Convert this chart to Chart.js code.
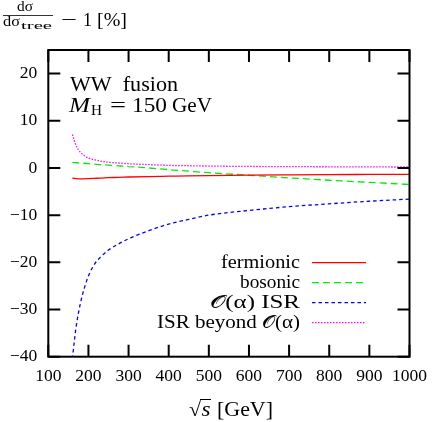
<!DOCTYPE html>
<html lang="en">
<head>
<meta charset="UTF-8">
<title>WW fusion</title>
<script src="https://cdn.jsdelivr.net/npm/chart.js"></script>
<style>
  html, body { margin: 0; padding: 0; background: #fff; }
  #wrap { width: 436px; height: 422px; }
</style>
</head>
<body>
<div id="wrap"><canvas id="c"></canvas></div>
<script>
// sqrt(s) in GeV
const energies = [160, 165, 170, 180, 190, 200, 215, 230, 250, 275, 300, 350, 400, 450, 500, 600, 700, 800, 900, 1000];
// relative corrections in %
const fermionic = [-2.1, -2.2, -2.25, -2.3, -2.3, -2.25, -2.2, -2.15, -2.05, -2.0, -1.92, -1.82, -1.75, -1.68, -1.62, -1.52, -1.46, -1.41, -1.38, -1.35];
const bosonic = [1.2, 1.15, 1.1, 1.05, 1.0, 0.9, 0.8, 0.7, 0.6, 0.45, 0.3, 0.0, -0.35, -0.68, -1.0, -1.55, -2.1, -2.6, -3.05, -3.5];
const isrOa = [-40.5, -36.6, -33.3, -28.7, -25.4, -22.9, -20.4, -18.9, -17.4, -16.1, -15.0, -13.3, -11.9, -10.9, -10.0, -9.0, -8.2, -7.6, -7.05, -6.6];
const isrBeyond = [7.1, 5.7, 4.6, 3.3, 2.6, 2.1, 1.75, 1.45, 1.2, 1.05, 0.9, 0.7, 0.55, 0.47, 0.4, 0.32, 0.28, 0.25, 0.22, 0.2];
const legendLabels = ['fermionic', 'bosonic', '\u{1D4AA}(\u03B1) ISR', 'ISR beyond \u{1D4AA}(\u03B1)'];
const xTicks = [100, 200, 300, 400, 500, 600, 700, 800, 900, 1000];
const yTicks = [-40, -30, -20, -10, 0, 10, 20];

const SERIF = '"Liberation Serif", "DejaVu Serif", serif';

function pts(ys) {
    return energies.map((e, i) => ({ x: e, y: ys[i] }));
}

function ds(label, ys, color, dash) {
    return {
        label: label,
        data: pts(ys),
        borderColor: color,
        borderWidth: 1.3,
        borderDash: dash,
        pointRadius: 0,
        fill: false,
        cubicInterpolationMode: 'monotone'
    };
}

// text stretched to the width it has in the original (TeX fonts are wider)
function fitText(ctx, font, text, x, y, w) {
    ctx.font = font;
    const m = ctx.measureText(text).width;
    ctx.save();
    ctx.translate(x, y);
    ctx.scale(w / m, 1);
    ctx.textAlign = 'left';
    ctx.fillText(text, 0, 0);
    ctx.restore();
}

function minus(v) {
    return v < 0 ? '\u2212' + Math.abs(v) : String(v);
}

// frame, inward ticks on all four sides, texts and legend
const decor = {
    id: 'decor',
    afterDatasetsDraw(chart) {
        const ctx = chart.ctx;
        const a = chart.chartArea;
        const sx = chart.scales.x, sy = chart.scales.y;
        const tl = 12;
        ctx.save();
        ctx.strokeStyle = '#000';
        ctx.lineWidth = 2;
        ctx.beginPath();
        xTicks.forEach(v => {
            const p = sx.getPixelForValue(v);
            ctx.moveTo(p, a.bottom); ctx.lineTo(p, a.bottom - tl);
            ctx.moveTo(p, a.top); ctx.lineTo(p, a.top + tl);
        });
        yTicks.forEach(v => {
            const p = sy.getPixelForValue(v);
            ctx.moveTo(a.left, p); ctx.lineTo(a.left + tl, p);
            ctx.moveTo(a.right, p); ctx.lineTo(a.right - tl, p);
        });
        ctx.stroke();
        ctx.strokeRect(a.left, a.top, a.right - a.left, a.bottom - a.top);

        ctx.fillStyle = '#000';
        ctx.textBaseline = 'alphabetic';

        // legend
        const legW = [79, 60, 90, 143];
        chart.data.datasets.forEach((d, i) => {
            const y = 262.7 + i * 20;
            fitText(ctx, '18px ' + SERIF, legendLabels[i], 300 - legW[i], y + 5.5, legW[i]);
            ctx.save();
            ctx.strokeStyle = d.borderColor;
            ctx.lineWidth = d.borderWidth;
            ctx.setLineDash(d.borderDash || []);
            ctx.beginPath();
            ctx.moveTo(312, y); ctx.lineTo(366, y);
            ctx.stroke();
            ctx.restore();
        });

        // process label
        fitText(ctx, '20px ' + SERIF, 'WW  fusion', 70, 91, 108);
        fitText(ctx, 'italic 20px ' + SERIF, 'M', 69, 111.5, 21);
        fitText(ctx, '14px ' + SERIF, 'H', 91, 115, 11);
        fitText(ctx, '20px ' + SERIF, '=', 110, 111.5, 16);
        fitText(ctx, '20px ' + SERIF, '150', 132, 111.5, 35);
        fitText(ctx, '20px ' + SERIF, 'GeV', 172, 111.5, 40);

        // y axis label: dσ/dσ_tree − 1 [%]
        fitText(ctx, '14px ' + SERIF, 'd\u03C3', 17, 10.7, 16);
        ctx.lineWidth = 0.8;
        ctx.beginPath();
        ctx.moveTo(3, 15.5); ctx.lineTo(53, 15.5);
        ctx.stroke();
        fitText(ctx, '14px ' + SERIF, 'd\u03C3', 3, 26, 17);
        fitText(ctx, '11px ' + SERIF, 'tree', 21, 28.5, 31);
        fitText(ctx, '19px ' + SERIF, '\u2212', 61, 26, 16);
        fitText(ctx, '19px ' + SERIF, '1', 83, 26, 9);
        fitText(ctx, '19px ' + SERIF, '[%]', 97, 26, 30);

        // x axis label: √s [GeV]
        fitText(ctx, '20px ' + SERIF, '\u221A', 189, 416, 12);
        fitText(ctx, 'italic 20px ' + SERIF, 's', 201.5, 416, 9);
        ctx.lineWidth = 1;
        ctx.beginPath();
        ctx.moveTo(200, 399.5); ctx.lineTo(211, 399.5);
        ctx.stroke();
        fitText(ctx, '20px ' + SERIF, '[GeV]', 217, 416, 56);
        ctx.restore();
    }
};

new Chart(document.getElementById('c'), {
    type: 'line',
    data: {
        datasets: [
            ds(legendLabels[0], fermionic, '#ff0000', []),
            ds(legendLabels[1], bosonic, '#00ee00', [7, 4]),
            ds(legendLabels[2], isrOa, '#0000ff', [3.5, 3]),
            ds(legendLabels[3], isrBeyond, '#ff00ff', [1.5, 1.5])
        ]
    },
    options: {
        responsive: true,
        maintainAspectRatio: false,
        animation: false,
        layout: { padding: { top: 50, right: 22.3, left: 0, bottom: 0 } },
        plugins: { legend: { display: false }, tooltip: { enabled: false } },
        scales: {
            x: {
                type: 'linear',
                min: 100,
                max: 1000,
                afterFit(s) { s.height = 65.3; },
                afterBuildTicks(s) { s.ticks = xTicks.map(v => ({ value: v })); },
                grid: { display: false, drawTicks: false },
                border: { display: false },
                ticks: {
                    color: '#000', padding: 9, maxRotation: 0, autoSkip: false,
                    font: { family: SERIF, size: 17.5 },
                    callback: v => String(v)
                }
            },
            y: {
                min: -40,
                max: 25,
                afterFit(s) { s.width = 48.3; },
                afterBuildTicks(s) { s.ticks = yTicks.map(v => ({ value: v })); },
                grid: { display: false, drawTicks: false },
                border: { display: false },
                ticks: {
                    color: '#000', padding: 11,
                    font: { family: SERIF, size: 17.5 },
                    callback: v => minus(v)
                }
            }
        }
    },
    plugins: [decor]
});
</script>
</body>
</html>
